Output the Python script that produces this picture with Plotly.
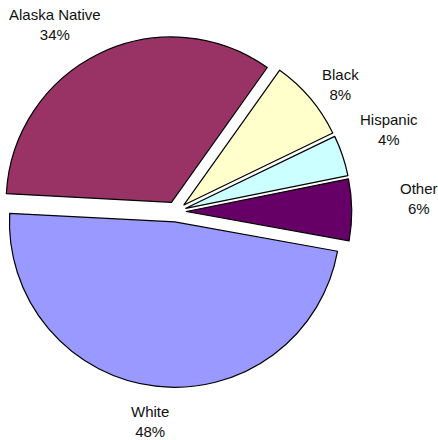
import plotly.graph_objects as go

# Population share by group (percent)
groups = ["Alaska Native", "Black", "Hispanic", "Other", "White"]
shares = [34, 8, 4, 6, 48]
slice_colors = ["#993366", "#FFFFCC", "#CCFFFF", "#660066", "#9999FF"]

# Label centres in pixel coordinates of the 438x440 page
W, H = 438, 440
label_xy = {
    "Alaska Native": (54.5, 25),
    "Black": (340, 84.5),
    "Hispanic": (388.5, 129),
    "Other": (418.5, 198.3),
    "White": (150, 421),
}

fig = go.Figure(
    go.Pie(
        labels=groups,
        values=shares,
        sort=False,
        direction="clockwise",
        rotation=-87,
        pull=[0.0627] * len(groups),
        marker=dict(colors=slice_colors, line=dict(color="#000000", width=1.2)),
        textinfo="none",
        hoverinfo="skip",
        showlegend=False,
        domain=dict(x=[0.0006, 0.8030], y=[0.1190, 0.9190]),
    )
)

annotations = []
for g, v in zip(groups, shares):
    px, py = label_xy[g]
    annotations.append(
        dict(
            x=px / W,
            y=1 - py / H,
            xref="paper",
            yref="paper",
            xanchor="center",
            yanchor="middle",
            text=f"{g}<br>{v}%",
            showarrow=False,
            font=dict(family="Liberation Sans, Arial, sans-serif", size=15, color="#111111"),
        )
    )

fig.update_layout(
    width=W,
    height=H,
    margin=dict(l=0, r=0, t=0, b=0),
    paper_bgcolor="white",
    plot_bgcolor="white",
    annotations=annotations,
)

fig.write_html("out.html")
